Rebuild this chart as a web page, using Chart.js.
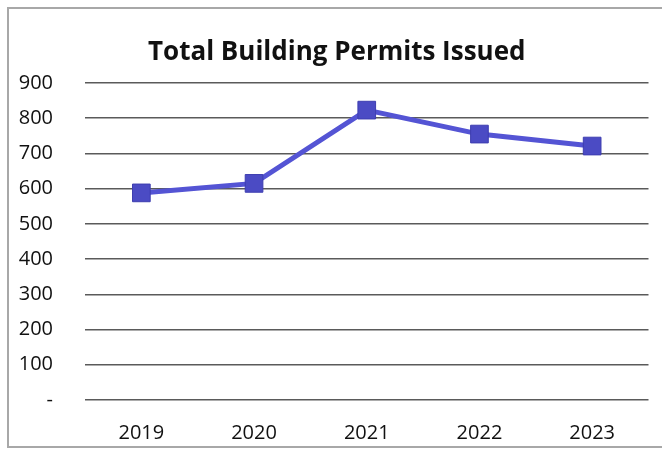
<!DOCTYPE html>
<html>
<head>
<meta charset="utf-8">
<script src="https://cdn.jsdelivr.net/npm/chart.js@4"></script>
<style>
  html, body { margin: 0; padding: 0; background: #fff; }
  #wrap { position: relative; width: 662px; height: 450px; overflow: hidden; }
  #frame { position: absolute; left: 7px; top: 7px; width: 700px; height: 441px; border: 2px solid #a8a8a8; border-right: none; box-sizing: border-box; }
  canvas { position: absolute; left: 0; top: 0; }
</style>
</head>
<body>
<div id="wrap">
  <div id="frame"></div>
  <canvas id="permitsChart" width="662" height="450"></canvas>
</div>
<script>
const years = ['2019', '2020', '2021', '2022', '2023'];
const permits = [588, 615, 823, 755, 721];
const yTicks = [0, 100, 200, 300, 400, 500, 600, 700, 800, 900];

const ctx = document.getElementById('permitsChart').getContext('2d');
new Chart(ctx, {
  type: 'line',
  data: {
    labels: years,
    datasets: [{
      label: 'Permits',
      data: permits,
      borderColor: '#5454d4',
      backgroundColor: '#4b4bc4',
      pointBorderColor: '#3e3eb0',
      borderWidth: 5,
      pointStyle: 'rect',
      pointRadius: 12.5,
      pointBorderWidth: 1,
      tension: 0
    }]
  },
  options: {
    responsive: false,
    animation: false,
    layout: { padding: { top: 10, left: 16, right: 4.5, bottom: 0 } },
    plugins: {
      legend: { display: false },
      tooltip: { enabled: false },
      title: {
        display: true,
        text: 'Total Building Permits Issued',
        color: '#111',
        font: { family: 'Open Sans', size: 26, weight: 'bold' },
        padding: { top: 27, bottom: 14.8 }
      }
    },
    scales: {
      x: {
        offset: true,
        grid: { display: false, drawTicks: false },
        border: { display: false },
        afterFit: (scale) => {
          // keep the plot running right up to the frame edge
          scale.height = 50;
          scale.paddingLeft = 0;
          scale.paddingRight = 0;
        },
        ticks: {
          color: '#111',
          font: { family: 'Open Sans', size: 20 },
          padding: 21
        }
      },
      y: {
        min: 0,
        max: 900,
        afterBuildTicks: (scale) => { scale.ticks = yTicks.map(v => ({ value: v })); },
        afterFit: (scale) => { scale.width = 69; },
        grid: { color: '#5a5a5a', lineWidth: 1.6, drawTicks: false },
        border: { display: false },
        ticks: {
          color: '#111',
          font: { family: 'Open Sans', size: 20 },
          padding: 32,
          callback: (v) => v === 0 ? '-' : v
        }
      }
    }
  }
});
</script>
</body>
</html>
